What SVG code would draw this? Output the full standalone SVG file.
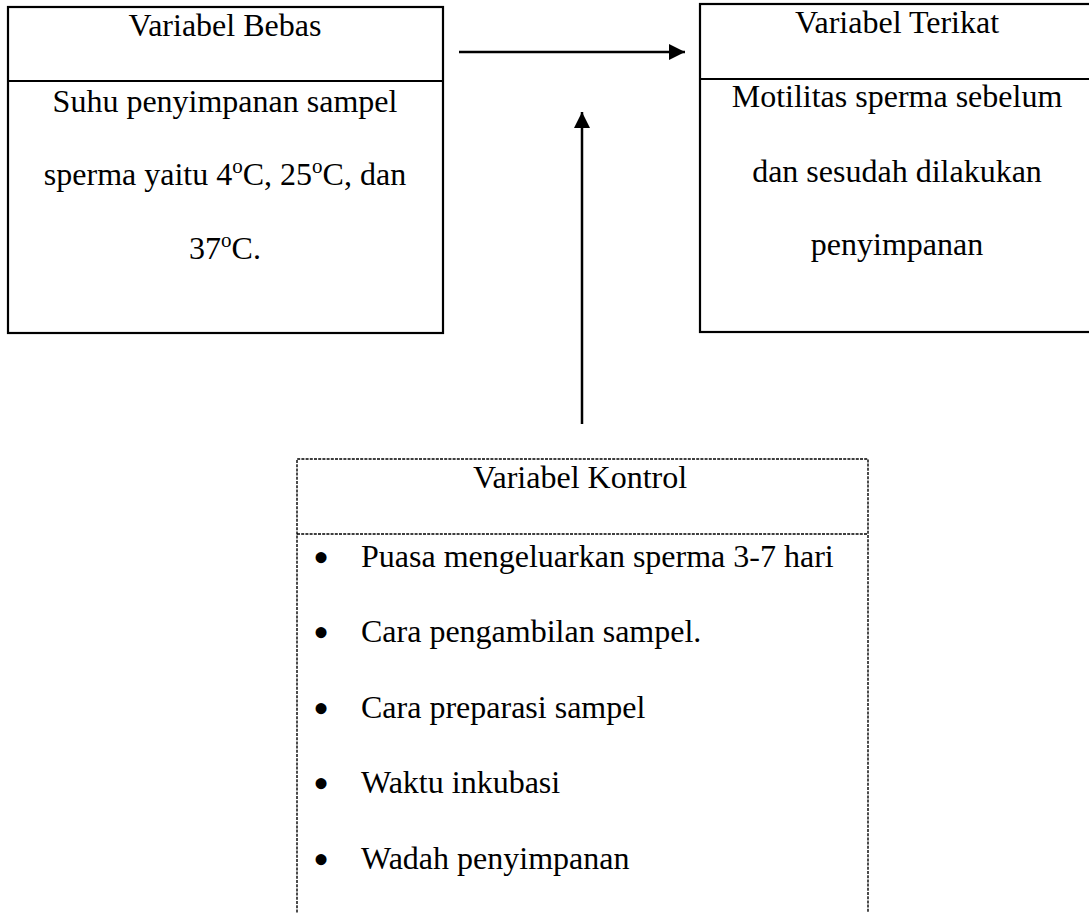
<svg xmlns="http://www.w3.org/2000/svg" width="1089" height="913" viewBox="0 0 1089 913">
  <style>
    .t { font-family: "Liberation Serif", "Times New Roman", serif; font-size: 32px; fill: #000; }
    .c { text-anchor: middle; }
    .b { font-family: "Liberation Serif", "Times New Roman", serif; font-size: 46px; fill: #000; text-anchor: middle; }
    .box { fill: none; stroke: #000; stroke-width: 2.2; }
    .dash { fill: none; stroke: #000; stroke-width: 1.4; stroke-dasharray: 3 1.2; }
    .conn { stroke: #000; stroke-width: 2.5; fill: none; }
    .sup { font-size: 21px; }
  </style>
  <defs>
    <marker id="ah" viewBox="0 0 16 16" refX="16" refY="8" markerWidth="16" markerHeight="16" markerUnits="userSpaceOnUse" orient="auto">
      <path d="M0,0 L16,8 L0,16 Z" fill="#000"/>
    </marker>
  </defs>
  <rect width="1089" height="913" fill="#fff"/>

  <g id="variabel-bebas">
    <rect class="box" x="8" y="7" width="435" height="326"/>
    <line class="box" x1="8" y1="81" x2="443" y2="81"/>
    <text class="t c" x="225" y="36">Variabel Bebas</text>
    <text class="t c" x="225" y="112">Suhu penyimpanan sampel</text>
    <text class="t c" x="225" y="185">sperma yaitu 4<tspan class="sup" dy="-12">o</tspan><tspan dy="12">C, 25</tspan><tspan class="sup" dy="-12">o</tspan><tspan dy="12">C, dan</tspan></text>
    <text class="t c" x="225" y="259">37<tspan class="sup" dy="-12">o</tspan><tspan dy="12">C.</tspan></text>
  </g>

  <g id="variabel-terikat">
    <rect class="box" x="700" y="4" width="394" height="328"/>
    <line class="box" x1="700" y1="79" x2="1094" y2="79"/>
    <text class="t c" x="897" y="33">Variabel Terikat</text>
    <text class="t c" x="897" y="107">Motilitas sperma sebelum</text>
    <text class="t c" x="897" y="182">dan sesudah dilakukan</text>
    <text class="t c" x="897" y="255">penyimpanan</text>
  </g>

  <g id="variabel-kontrol">
    <path class="dash" d="M297,925 L297,459 L868,459 L868,925"/>
    <line class="dash" x1="297" y1="534" x2="868" y2="534"/>
    <text class="t c" x="580" y="488">Variabel Kontrol</text>
    <text class="b" x="321" y="573">•</text>
    <text class="t" x="361" y="567">Puasa mengeluarkan sperma 3-7 hari</text>
    <text class="b" x="321" y="648">•</text>
    <text class="t" x="361" y="642">Cara pengambilan sampel.</text>
    <text class="b" x="321" y="724">•</text>
    <text class="t" x="361" y="718">Cara preparasi sampel</text>
    <text class="b" x="321" y="799">•</text>
    <text class="t" x="361" y="793">Waktu inkubasi</text>
    <text class="b" x="321" y="875">•</text>
    <text class="t" x="361" y="869">Wadah penyimpanan</text>
  </g>

  <g id="connectors">
    <line class="conn" x1="459" y1="52" x2="685" y2="52" marker-end="url(#ah)"/>
    <line class="conn" x1="582" y1="424" x2="582" y2="112" marker-end="url(#ah)"/>
  </g>
</svg>
